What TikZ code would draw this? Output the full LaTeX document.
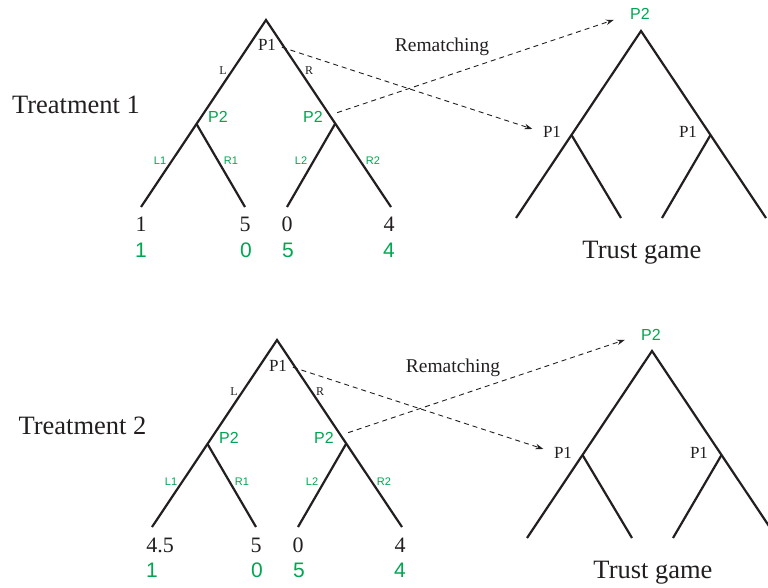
\documentclass[tikz,border=0pt]{standalone}
\usepackage{fontspec}
\setmainfont{Liberation Serif}
\newfontfamily\sansfam{Liberation Sans}
\usetikzlibrary{arrows.meta}

\definecolor{ink}{RGB}{35,31,32}
\definecolor{leaf}{RGB}{0,166,81}

\tikzset{
  branch/.style={draw=ink, line width=2.2pt, line join=miter},
  txt/.style={inner sep=0pt, anchor=base, text=ink},
  player/.style={txt, font=\fontsize{17}{20}\selectfont},
  act/.style={txt, font=\fontsize{12}{14}\selectfont},
  gplayer/.style={txt, text=leaf, font=\sansfam\fontsize{16}{19}\selectfont},
  gact/.style={txt, text=leaf, font=\sansfam\fontsize{11}{13}\selectfont},
  pay/.style={txt, font=\fontsize{22}{26}\selectfont},
  gpay/.style={txt, text=leaf, font=\sansfam\fontsize{21}{25}\selectfont},
  big/.style={txt, font=\fontsize{26.5}{30}\selectfont},
  note/.style={txt, font=\fontsize{19.5}{23}\selectfont},
  rematch/.style={draw=ink, line width=0.9pt, dash pattern=on 5pt off 4pt,
    -{Stealth[length=8pt,width=5.5pt]}},
}

% #1 name prefix, #2/#3 shift, #4 treatment label, #5 its x,
% #6 first payoff of P1, #7 its x
\newcommand\drawpanel[7]{%
\begin{scope}[shift={(#2,#3)}]
  % sequential game
  \coordinate (#1root) at (266,20);
  \coordinate (#1lp)   at (196.5,124);
  \coordinate (#1rp)   at (335,124);
  \coordinate (#1ll)   at (141,207);
  \coordinate (#1lr)   at (245,207);
  \coordinate (#1rl)   at (287,207);
  \coordinate (#1rr)   at (391,207);
  \draw[branch] (#1ll) -- (#1root) -- (#1rr);
  \draw[branch] (#1lp) -- (#1lr);
  \draw[branch] (#1rp) -- (#1rl);

  \node[big] (#1treat) at (#5,114) {#4};
  \node[player] (#1p1) at (267,51) {P1};
  \node[act] (#1al) at (223,75) {L};
  \node[act] (#1ar) at (309,75) {R};
  \node[gplayer] (#1p2l) at (218,123) {P2};
  \node[gplayer] (#1p2r) at (313,123) {P2};
  \node[gact] (#1l1) at (160,165) {L1};
  \node[gact] (#1r1) at (231,165) {R1};
  \node[gact] (#1l2) at (301,165) {L2};
  \node[gact] (#1r2) at (373,165) {R2};

  \node[pay] (#1a1) at (#7,232) {#6};
  \node[pay] (#1a2) at (245,232) {5};
  \node[pay] (#1a3) at (287,232) {0};
  \node[pay] (#1a4) at (389,232) {4};
  \node[gpay] (#1b1) at (141,257) {1};
  \node[gpay] (#1b2) at (246,257) {0};
  \node[gpay] (#1b3) at (288,257) {5};
  \node[gpay] (#1b4) at (389,257) {4};

  % trust game
  \coordinate (#1troot) at (641,31);
  \coordinate (#1tlp)   at (571.5,135);
  \coordinate (#1trp)   at (710.5,135);
  \coordinate (#1tll)   at (516,218);
  \coordinate (#1tlr)   at (621,218);
  \coordinate (#1trl)   at (662,218);
  \coordinate (#1trr)   at (766,218);
  \draw[branch] (#1tll) -- (#1troot) -- (#1trr);
  \draw[branch] (#1tlp) -- (#1tlr);
  \draw[branch] (#1trp) -- (#1trl);

  \node[gplayer] (#1tp2) at (640,20) {P2};
  \node[player] (#1tpl) at (552,138) {P1};
  \node[player] (#1tpr) at (688,138) {P1};
  \node[big] (#1tg) at (642,258) {Trust game};

  % rematching
  \node[note] (#1rem) at (442,52) {Rematching};
  \draw[rematch, shorten <=6pt, shorten >=11pt] (#1p1.east) -- (#1tpl.west);
  \draw[rematch, shorten <=15pt, shorten >=17pt] (#1p2r.east) -- (#1tp2.west);
\end{scope}}

\begin{document}
\begin{tikzpicture}[x=1pt, y=-1pt]
  \useasboundingbox (0,0) rectangle (768,588);
  \drawpanel{u}{0}{0}{Treatment 1}{76}{1}{141}
  \drawpanel{d}{11}{320}{Treatment 2}{71.5}{4.5}{149}
\end{tikzpicture}
\end{document}
